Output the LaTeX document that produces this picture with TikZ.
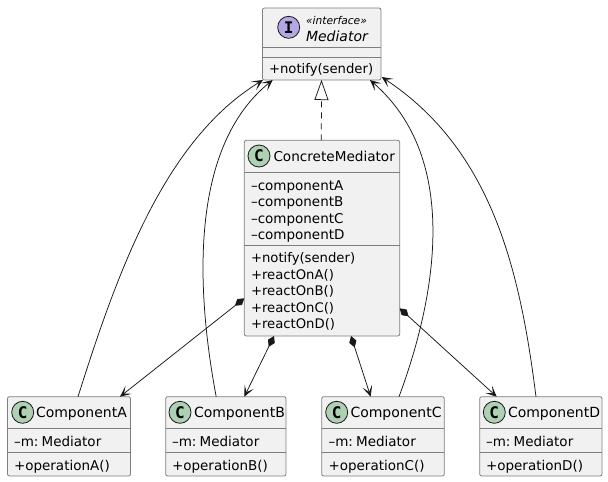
\documentclass[tikz,border=0pt]{standalone}
\usepackage{fontspec}
\setmainfont{DejaVu Sans}
\newfontfamily\badgefont[BoldFont={DejaVu Sans Mono Bold}]{DejaVu Sans Mono}
\usetikzlibrary{arrows.meta}
\definecolor{boxbg}{HTML}{F1F1F1}
\definecolor{boxline}{HTML}{7E7E7E}
\definecolor{ink}{HTML}{181818}
\definecolor{classc}{HTML}{ADD1B2}
\definecolor{ifacec}{HTML}{B4A7E5}
\tikzset{
  box/.style={draw=boxline,fill=boxbg,line width=0.8pt,rounded corners=2pt,anchor=north west,inner sep=0pt,outer sep=0pt},
  sep/.style={draw=boxline,line width=0.8pt},
  txt/.style={anchor=base west,inner sep=0pt,outer sep=0pt,text=black,font=\fontsize{13.5}{15}\selectfont},
  meth/.style={txt,font=\fontsize{13.2}{15}\selectfont},
  title/.style={txt,font=\fontsize{14}{15}\selectfont},
  badge/.style={circle,draw=ink,line width=0.8pt,minimum size=22pt,inner sep=0pt,font=\badgefont\fontsize{16}{16}\selectfont\bfseries,text=black},
  link/.style={draw=ink,line width=0.75pt},
  head/.style={-{Stealth[length=11pt,width=10pt,inset=6pt]}},
  comp/.style={{Diamond[length=12pt,width=7.5pt]}-{Stealth[length=11pt,width=10pt,inset=6pt]}},
  impl/.style={dashed,dash pattern=on 6pt off 5pt,-{Triangle[open,length=20pt,width=14pt,fill=white]}},
}
\newcommand{\fieldm}{–m:\hspace{3.2pt}Mediator}
\begin{document}
\begin{tikzpicture}[x=1pt,y=-1pt]
\useasboundingbox (0,0) rectangle (608,482);
\fill[white] (0,0) rectangle (608,482);

% Mediator
\node[box,minimum width=118.5pt,minimum height=72pt] (med) at (262.5,8) {};
\draw[sep] (262.5,47) -- (381,47) (262.5,57) -- (381,57);
\node[badge,fill=ifacec] (medb) at (288.7,27.3) {I};
\node[txt,font=\fontsize{10.7}{12}\selectfont\itshape] (meds) at (306,24) {«interface»};
\node[txt,font=\fontsize{14}{15}\selectfont\itshape] (medn) at (306,41) {Mediator};
\node[meth] (medm) at (269,73) {+notify(sender)};

% ConcreteMediator
\node[box,minimum width=155.4pt,minimum height=195.7pt] (cm) at (244.3,140.3) {};
\draw[sep] (244.3,172.3) -- (399.7,172.3) (244.3,245.3) -- (399.7,245.3);
\node[badge,fill=classc] (cmb) at (259,156) {C};
\node[title,font=\fontsize{13.6}{15}\selectfont] (cmn) at (273.5,161) {ConcreteMediator};
\node[txt] (cmf1) at (251,190) {–componentA};
\node[txt] (cmf2) at (251,206.5) {–componentB};
\node[txt] (cmf3) at (251,223) {–componentC};
\node[txt] (cmf4) at (251,239.5) {–componentD};
\node[meth] (cmm1) at (251,262.5) {+notify(sender)};
\node[meth] (cmm2) at (251,279) {+reactOnA()};
\node[meth] (cmm3) at (251,295.5) {+reactOnB()};
\node[meth] (cmm4) at (251,312) {+reactOnC()};
\node[meth] (cmm5) at (251,328.5) {+reactOnD()};

% Components
\node[box,minimum width=123pt,minimum height=79.3pt] (ca) at (7.5,396.7) {};
\draw[sep] (7.5,428.3) -- (130.5,428.3) (7.5,452.3) -- (130.5,452.3);
\node[badge,fill=classc] (cab) at (22.7,412.3) {C};
\node[title] (can) at (36,417) {ComponentA};
\node[txt] (caf) at (14,446) {\fieldm};
\node[txt] (cam) at (14,470) {+operationA()};

\node[box,minimum width=120.3pt,minimum height=79.3pt] (cbx) at (165.7,396.7) {};
\draw[sep] (165.7,428.3) -- (286,428.3) (165.7,452.3) -- (286,452.3);
\node[badge,fill=classc] (cbb) at (180,412.3) {C};
\node[title] (cbn) at (194,417) {ComponentB};
\node[txt] (cbf) at (172,446) {\fieldm};
\node[txt] (cbm) at (172,470) {+operationB()};

\node[box,minimum width=122.6pt,minimum height=79.3pt] (cc) at (321.7,396.7) {};
\draw[sep] (321.7,428.3) -- (444.3,428.3) (321.7,452.3) -- (444.3,452.3);
\node[badge,fill=classc] (ccb) at (336.7,412.3) {C};
\node[title] (ccn) at (350.5,417) {ComponentC};
\node[txt] (ccf) at (328.5,446) {\fieldm};
\node[txt] (ccm) at (328.5,470) {+operationC()};

\node[box,minimum width=122.3pt,minimum height=79.3pt] (cd) at (479.7,396.7) {};
\draw[sep] (479.7,428.3) -- (602,428.3) (479.7,452.3) -- (602,452.3);
\node[badge,fill=classc] (cdb) at (494.3,412.3) {C};
\node[title] (cdn) at (508,417) {ComponentD};
\node[txt] (cdf) at (486,446) {\fieldm};
\node[txt] (cdm) at (486,470) {+operationD()};

% Realization
\draw[link,impl] ([xshift=77pt]cm.north west) -- ([xshift=59pt]med.south west);

% Dependencies to Mediator
\draw[link,head] ([xshift=70.5pt]ca.north west) .. controls (118,270) and (165,140) .. ([xshift=0.5pt]med.south west);
\draw[link,head] ([xshift=50.5pt]cbx.north west) .. controls (198,300) and (186,150) .. ([xshift=10.2pt]med.south west);
\draw[link,head] ([xshift=77.3pt]cc.north west) .. controls (435,300) and (462,160) .. ([xshift=107.5pt]med.south west);
\draw[link,head] ([xshift=56.3pt]cd.north west) .. controls (520,270) and (492,150) .. ([xshift=119.2pt,yshift=3pt]med.south west);

% Compositions
\draw[link,comp] ([yshift=-158pt]cm.north west) -- ([xshift=112.5pt]ca.north west);
\draw[link,comp] ([xshift=29.7pt]cm.south west) -- ([xshift=78.6pt]cbx.north west);
\draw[link,comp] ([xshift=106.7pt]cm.south west) -- ([xshift=49pt]cc.north west);
\draw[link,comp] ([yshift=-168pt]cm.north east) -- ([xshift=17pt]cd.north west);
\end{tikzpicture}
\end{document}
